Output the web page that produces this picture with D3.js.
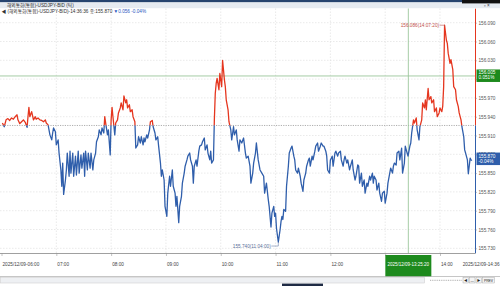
<!DOCTYPE html>
<html>
<head>
<meta charset="utf-8">
<script src="https://cdn.jsdelivr.net/npm/d3@7"></script>
<style>
  body { margin: 0; background: #fff; }
  svg { display: block; font-family: "Liberation Sans", "Noto Sans CJK KR", sans-serif; }
</style>
</head>
<body>
<div id="chart"></div>
<script>
// USDJPY BID tick chart, 2025/12/09
const day = "2025-12-09";
const times = [
  "06:01","06:03","06:05","06:07","06:09","06:11","06:13","06:15","06:17","06:18","06:20","06:22","06:24","06:26","06:28","06:29","06:30","06:31","06:33","06:35",
  "06:37","06:38","06:40","06:42","06:44","06:46","06:48","06:49","06:51","06:52","06:53","06:55","06:56","06:57","06:59","07:00","07:02","07:03","07:05","07:06",
  "07:07","07:08","07:10","07:11","07:12","07:14","07:15","07:16","07:18","07:19","07:21","07:22","07:24","07:25","07:27","07:28","07:30","07:31","07:32","07:34",
  "07:35","07:37","07:38","07:40","07:41","07:43","07:44","07:46","07:47","07:49","07:50","07:52","07:53","07:54","07:56","07:57","07:59","08:00","08:01","08:02",
  "08:04","08:05","08:07","08:08","08:10","08:11","08:13","08:14","08:16","08:17","08:18","08:20","08:21","08:23","08:24","08:26","08:27","08:29","08:30","08:32",
  "08:33","08:35","08:36","08:37","08:39","08:40","08:42","08:43","08:45","08:46","08:48","08:49","08:51","08:52","08:54","08:55","08:56","08:58","08:59","09:01",
  "09:02","09:04","09:05","09:07","09:08","09:10","09:11","09:12","09:14","09:15","09:17","09:18","09:20","09:21","09:23","09:24","09:26","09:27","09:29","09:30",
  "09:31","09:33","09:34","09:36","09:37","09:39","09:40","09:42","09:43","09:45","09:46","09:48","09:49","09:50","09:52","09:53","09:54","09:55","09:56","09:58",
  "09:59","10:01","10:02","10:04","10:05","10:06","10:08","10:09","10:11","10:12","10:14","10:15","10:17","10:18","10:20","10:21","10:23","10:25","10:27","10:28",
  "10:30","10:32","10:33","10:35","10:36","10:38","10:39","10:41","10:43","10:45","10:47","10:48","10:50","10:52","10:53","10:55","10:56","10:58","10:59","11:00",
  "11:01","11:03","11:05","11:06","11:07","11:08","11:09","11:11","11:12","11:14","11:15","11:17","11:18","11:20","11:21","11:22","11:24","11:25","11:27","11:28",
  "11:30","11:31","11:33","11:34","11:36","11:37","11:38","11:40","11:41","11:43","11:44","11:46","11:47","11:49","11:50","11:52","11:53","11:55","11:56","11:57",
  "11:59","12:00","12:02","12:03","12:05","12:06","12:08","12:09","12:11","12:12","12:14","12:15","12:16","12:18","12:19","12:21","12:22","12:24","12:25","12:27",
  "12:28","12:30","12:31","12:32","12:34","12:35","12:37","12:38","12:40","12:41","12:43","12:44","12:46","12:47","12:48","12:50","12:51","12:53","12:54","12:56",
  "12:57","12:59","13:00","13:02","13:03","13:05","13:06","13:08","13:09","13:10","13:12","13:13","13:15","13:16","13:18","13:19","13:21","13:22","13:24","13:25",
  "13:27","13:28","13:29","13:31","13:32","13:34","13:35","13:37","13:38","13:40","13:41","13:43","13:44","13:45","13:47","13:48","13:50","13:51","13:53","13:54",
  "13:56","13:57","13:59","14:00","14:02","14:03","14:04","14:05","14:07","14:08","14:09","14:11","14:12","14:14","14:15","14:17","14:18","14:20","14:21","14:23",
  "14:24","14:26","14:27","14:28","14:30","14:31","14:33","14:34","14:35"
];
const prices = [
  155.930,155.924,155.935,155.937,155.934,155.938,155.936,155.940,155.943,155.935,155.929,155.932,155.935,155.931,155.923,155.940,155.955,155.940,155.948,155.935,
  155.940,155.936,155.938,155.935,155.934,155.932,155.935,155.930,155.927,155.919,155.911,155.903,155.914,155.922,155.916,155.895,155.903,155.882,155.855,155.829,
  155.866,155.816,155.839,155.855,155.882,155.845,155.885,155.850,155.882,155.845,155.877,155.847,155.885,155.850,155.879,155.858,155.882,155.845,155.885,155.855,
  155.882,155.858,155.882,155.855,155.871,155.882,155.900,155.908,155.919,155.911,155.922,155.914,155.940,155.930,155.911,155.919,155.879,155.935,155.955,155.940,
  155.911,155.930,155.935,155.946,155.954,155.962,155.951,155.973,155.962,155.967,155.954,155.959,155.948,155.951,155.940,155.932,155.890,155.895,155.908,155.898,
  155.908,155.895,155.906,155.900,155.911,155.906,155.919,155.932,155.934,155.924,155.914,155.903,155.908,155.893,155.866,155.845,155.855,155.839,155.797,155.781,
  155.818,155.845,155.829,155.855,155.829,155.818,155.797,155.813,155.771,155.797,155.813,155.834,155.850,155.861,155.871,155.877,155.882,155.871,155.861,155.834,
  155.861,155.871,155.861,155.885,155.893,155.895,155.900,155.906,155.887,155.895,155.882,155.871,155.885,155.866,155.871,155.935,155.977,155.993,156.001,155.983,
  156.009,155.988,156.030,155.999,155.988,155.967,155.951,155.932,155.919,155.903,155.924,155.911,155.919,155.903,155.885,155.903,155.898,155.906,155.882,155.874,
  155.877,155.861,155.834,155.850,155.866,155.882,155.898,155.871,155.855,155.850,155.845,155.818,155.834,155.808,155.797,155.764,155.786,155.797,155.781,155.786,
  155.762,155.740,155.760,155.773,155.781,155.776,155.792,155.789,155.829,155.861,155.882,155.890,155.893,155.877,155.871,155.855,155.850,155.858,155.845,155.834,
  155.821,155.839,155.850,155.861,155.871,155.874,155.861,155.877,155.871,155.885,155.893,155.898,155.885,155.893,155.898,155.893,155.893,155.885,155.877,155.855,
  155.850,155.871,155.877,155.861,155.882,155.885,155.877,155.882,155.885,155.871,155.861,155.871,155.877,155.866,155.871,155.855,155.861,155.871,155.855,155.839,
  155.845,155.863,155.861,155.834,155.850,155.829,155.839,155.818,155.834,155.829,155.845,155.839,155.850,155.834,155.845,155.839,155.823,155.834,155.818,155.805,
  155.818,155.821,155.802,155.818,155.834,155.850,155.858,155.850,155.861,155.866,155.863,155.882,155.885,155.871,155.890,155.850,155.866,155.893,155.882,155.877,
  155.893,155.898,155.914,155.935,155.930,155.938,155.919,155.903,155.924,155.935,155.962,155.954,155.967,155.951,155.985,155.967,155.972,155.962,155.967,155.948,
  155.954,155.940,155.946,155.954,155.948,155.957,155.988,156.086,156.062,156.057,156.041,156.025,156.031,156.015,155.988,155.983,155.967,155.956,155.946,155.935,
  155.924,155.908,155.887,155.882,155.871,155.849,155.874,155.871,155.870
];
const prevClose = 155.926;
const yTicks = [156.090,156.060,156.030,156.000,155.970,155.940,155.910,155.880,155.850,155.820,155.790,155.760,155.730];
const hourTicks = ["06:00","07:00","08:00","09:00","10:00","11:00","12:00","13:00","14:00"];
const titleText = "해외통화(통합)-USDJPY-BID (틱)";
const headerMain = "◀ (해외통화(통합)-USDJPY-BID)-14:36:36 종:155.870 ";
const headerChange = "▼0.056  -0.04%";
const maxLabel = "156.086(14:07:20)";
const minLabel = "155.740(11:04:00)";
const endLabel = "2025/12/09-14:36";
const lastBox = ["155.870", "-0.04%"];
const crossTime = "13:25:20";
const crossPrice = 156.005;
const crossBox = ["156.005", "0.051%"];
const crossTimeLabel = "2025/12/09-13:25:20";

const parse = d3.timeParse("%Y-%m-%d %H:%M:%S");
const toDate = t => parse(`${day} ${t.length === 5 ? t + ":00" : t}`);
const data = times.map((t, i) => ({ t: toDate(t), v: prices[i] }));

const W = 500, H = 286;
const axisX = 475.5, plotTop = 8.5, plotBottom = 253.5;
const red = "#e5361f", blue = "#2f5eab", green = "#1d8a1d", lightGreen = "#9cc79c";
const fs = 4.7;

const svg = d3.select("#chart").append("svg").attr("width", W).attr("height", H);

const x = d3.scaleTime().domain([toDate("06:00"), toDate("14:00")]).range([1.5, 440]);
const y = d3.scaleLinear().domain([155.730, 156.090]).range([248.3, 22.7]);
const yRef = y(prevClose);
const crossX = x(toDate(crossTime));
const crossY = y(crossPrice);

// title bars
svg.append("rect").attr("width", W).attr("height", 2.4).attr("fill", "#26446f");
svg.append("rect").attr("y", 2.4).attr("width", W).attr("height", 5.8).attr("fill", "#e6ebf1");
svg.append("rect").attr("x", 462).attr("width", 38).attr("height", 3.4).attr("fill", "#111");
svg.append("text").attr("x", 7).attr("y", 7).attr("font-size", fs).attr("fill", "#333").text(titleText);
svg.append("text").attr("x", 484).attr("y", 7.2).attr("font-size", fs).attr("fill", "#333").text("▫ ×");

// grid
const grid = svg.append("g").attr("stroke", "#dcdcdc").attr("stroke-width", 0.6).attr("stroke-dasharray", "1.5,1.5");
grid.selectAll("line.h").data(yTicks).join("line").attr("class", "h")
  .attr("x1", 0).attr("x2", axisX).attr("y1", d => y(d)).attr("y2", d => y(d));
grid.selectAll("line.v").data(hourTicks.slice(1)).join("line").attr("class", "v")
  .attr("x1", d => x(toDate(d))).attr("x2", d => x(toDate(d))).attr("y1", plotTop).attr("y2", plotBottom);

// header text
const hdr = svg.append("text").attr("x", 1.5).attr("y", 12.8).attr("font-size", fs).attr("fill", "#333");
hdr.append("tspan").text(headerMain);
hdr.append("tspan").attr("fill", "#2a56c0").text(headerChange);

// previous close line
svg.append("line").attr("x1", 0).attr("x2", axisX).attr("y1", yRef).attr("y2", yRef)
  .attr("stroke", "#9a9a9a").attr("stroke-width", 0.8).attr("stroke-dasharray", "1.2,1.2");

// crosshair lines
svg.append("line").attr("x1", crossX).attr("x2", crossX)
  .attr("y1", plotTop).attr("y2", plotBottom).attr("stroke", lightGreen).attr("stroke-width", 0.9);
svg.append("line").attr("x1", 0).attr("x2", axisX).attr("y1", crossY).attr("y2", crossY)
  .attr("stroke", lightGreen).attr("stroke-width", 0.9);

// clip regions above/below previous close
const defs = svg.append("defs");
defs.append("clipPath").attr("id", "up").append("rect")
  .attr("x", 0).attr("y", plotTop).attr("width", W).attr("height", yRef - plotTop);
defs.append("clipPath").attr("id", "down").append("rect")
  .attr("x", 0).attr("y", yRef).attr("width", W).attr("height", plotBottom - yRef);

const line = d3.line().x(d => x(d.t)).y(d => y(d.v));
[["up", red], ["down", blue]].forEach(([id, c]) => {
  svg.append("path").datum(data).attr("d", line).attr("fill", "none")
    .attr("stroke", c).attr("stroke-width", 1.3).attr("stroke-linejoin", "round")
    .attr("clip-path", `url(#${id})`);
  svg.append("line").attr("x1", axisX).attr("x2", axisX).attr("y1", plotTop).attr("y2", plotBottom)
    .attr("stroke", c).attr("stroke-width", 1).attr("clip-path", `url(#${id})`);
});

// right axis (label under the crosshair price box is covered)
const yAxis = svg.append("g").attr("transform", `translate(${axisX},0)`)
  .call(d3.axisRight(y).tickValues(yTicks).tickSize(1.5).tickPadding(1.5)
    .tickFormat(d => Math.abs(y(d) - crossY) < 7 ? "" : d3.format(".3f")(d)));
yAxis.select(".domain").remove();
yAxis.selectAll("line").attr("stroke", "#888").attr("stroke-width", 0.5);
yAxis.selectAll("text").attr("font-size", fs).attr("fill", "#555").attr("font-family", null);

// bottom axis (13:00 label sits under the crosshair time box)
const fmtHM = d3.timeFormat("%H:%M");
const xAxis = svg.append("g").attr("transform", `translate(0,${plotBottom})`)
  .call(d3.axisBottom(x).tickValues(hourTicks.map(toDate)).tickSize(2.5)
    .tickFormat(d => {
      const s = fmtHM(d);
      if (s === "06:00") return d3.timeFormat("%Y/%m/%d-%H:%M")(d);
      return Math.abs(x(d) - crossX) < 25 ? "" : s;
    }));
xAxis.select(".domain").attr("d", `M0,0H${axisX}`).attr("stroke", "#888").attr("stroke-width", 0.8);
xAxis.selectAll("line").attr("stroke", "#888").attr("stroke-width", 0.5);
xAxis.selectAll("text").attr("font-size", fs).attr("fill", "#444").attr("font-family", null)
  .attr("text-anchor", "start").attr("dy", null).attr("y", 12.3).attr("x", 0.5);
svg.append("text").attr("x", 499.5).attr("y", plotBottom + 12.3).attr("text-anchor", "end")
  .attr("font-size", fs).attr("fill", "#444").text(endLabel);

// max / min annotations
const maxD = data.reduce((a, b) => (b.v > a.v ? b : a));
const minD = data.reduce((a, b) => (b.v < a.v ? b : a));
const mx = x(maxD.t), my = y(maxD.v);
svg.append("path").attr("d", `M${mx - 5},${my}H${mx}V${my + 1.5}`).attr("fill", "none").attr("stroke", "#c0504a").attr("stroke-width", 0.6);
svg.append("text").attr("x", mx - 5.5).attr("y", my + 1.6).attr("text-anchor", "end")
  .attr("font-size", fs).attr("fill", "#c0504a").text(maxLabel);
const nx = x(minD.t), ny = y(minD.v);
svg.append("path").attr("d", `M${nx - 7},${ny + 4}H${nx}V${ny}`).attr("fill", "none").attr("stroke", "#6a7fa8").attr("stroke-width", 0.6);
svg.append("text").attr("x", nx - 7.5).attr("y", ny + 5.6).attr("text-anchor", "end")
  .attr("font-size", fs).attr("fill", "#5a6f98").text(minLabel);

// value boxes on right axis
function valueBox(yc, lines, fill) {
  svg.append("rect").attr("x", axisX + 1).attr("y", yc - 6.5).attr("width", 24).attr("height", 12.5).attr("fill", fill);
  lines.forEach((s, i) => svg.append("text").attr("x", axisX + 3).attr("y", yc - 1.5 + i * 5)
    .attr("font-size", fs).attr("fill", "#fff").text(s));
}
valueBox(crossY, crossBox, green);
valueBox(y(prices[prices.length - 1]) - 1.5, lastBox, blue);

// crosshair time box
svg.append("rect").attr("x", crossX - 23).attr("y", plotBottom + 1.5).attr("width", 46).attr("height", 22).attr("fill", green);
svg.append("text").attr("x", crossX).attr("y", plotBottom + 12.3).attr("text-anchor", "middle")
  .attr("font-size", 4.5).attr("fill", "#fff").text(crossTimeLabel);

// scrollbar
svg.append("line").attr("x1", 0).attr("x2", W).attr("y1", 276.5).attr("y2", 276.5).attr("stroke", "#b8b8b8").attr("stroke-width", 0.8);
svg.append("rect").attr("x", 0.5).attr("y", 277.5).attr("width", 424).attr("height", 5.5).attr("fill", "#eef0f3").attr("stroke", "#c8c8c8").attr("stroke-width", 0.5);
svg.append("line").attr("x1", 430).attr("x2", 462).attr("y1", 280.3).attr("y2", 280.3).attr("stroke", "#777").attr("stroke-width", 0.6).attr("stroke-dasharray", "1,0.8");
["◀", "—", "▶", "PREV"].forEach((s, i) => {
  const bx = 463 + i * 6.5, bw = i === 3 ? 12 : 5.5;
  svg.append("rect").attr("x", bx).attr("y", 277.5).attr("width", bw).attr("height", 5.5).attr("fill", "#f4f4f4").attr("stroke", "#999").attr("stroke-width", 0.4);
  svg.append("text").attr("x", bx + bw / 2).attr("y", 281.7).attr("text-anchor", "middle").attr("font-size", 3.4).attr("fill", "#222").text(s);
});
svg.append("rect").attr("x", 282).attr("y", 283.6).attr("width", 41).attr("height", 2.4).attr("fill", "#1f2b45");
</script>
</body>
</html>
